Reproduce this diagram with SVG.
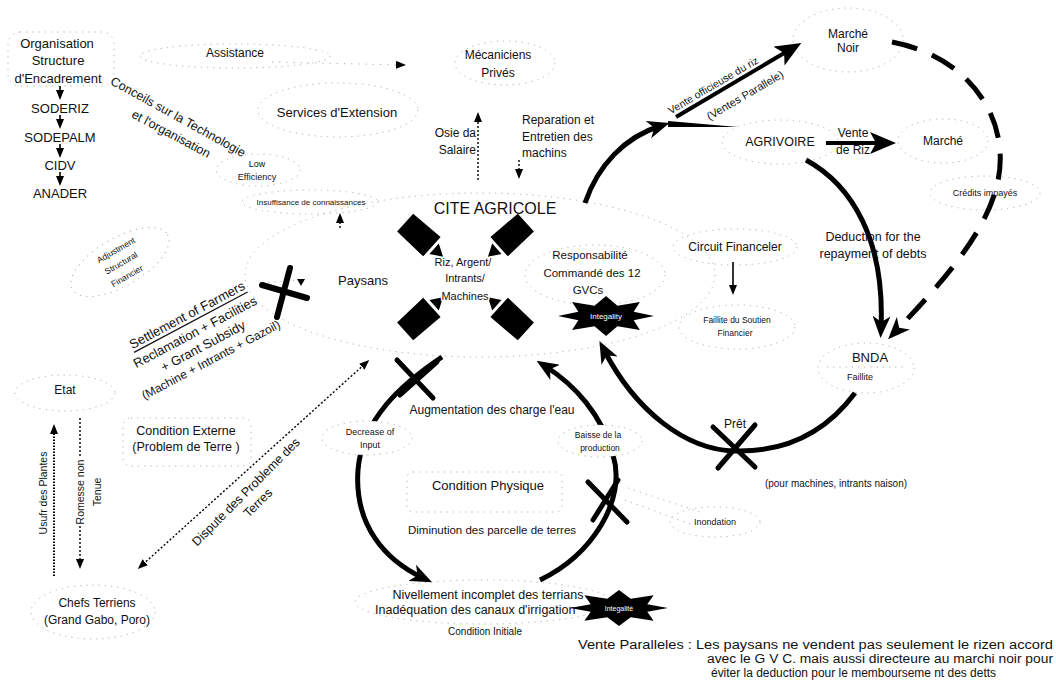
<svg xmlns="http://www.w3.org/2000/svg" width="1056" height="688" viewBox="0 0 1056 688">
<defs>
<style>
text{font-family:"Liberation Sans",Arial,Helvetica,sans-serif;fill:#111;text-anchor:middle;dominant-baseline:central}
.st{text-anchor:start}
.en{text-anchor:end}
.f7{font-size:7px}.f8{font-size:8px}.f85{font-size:8.5px}.f9{font-size:9px}.f10{font-size:10px}.f105{font-size:10.5px}.f11{font-size:11px}.f115{font-size:11.5px}.f12{font-size:12px}.f125{font-size:12.5px}.f13{font-size:13px}.f16{font-size:16px}
.dot{fill:none;stroke:#b0b0b0;stroke-width:1;stroke-dasharray:1.2 5}
.dotw{fill:#fff;stroke:#b0b0b0;stroke-width:1;stroke-dasharray:1.2 5}
.thick{fill:none;stroke:#000;stroke-width:5;stroke-linecap:butt}
.dash{fill:none;stroke:#000;stroke-width:5;stroke-dasharray:26 16}
.thin{fill:none;stroke:#000;stroke-width:1.4;stroke-dasharray:2 2}
.solid{fill:none;stroke:#000;stroke-width:1.6}
.xm{stroke:#000;stroke-width:6;stroke-linecap:round;fill:none}
.halo{paint-order:stroke;stroke:#fff;stroke-width:3px;stroke-linejoin:round}
.wt{fill:#fff}
</style>
<marker id="big" markerUnits="userSpaceOnUse" viewBox="0 0 22 18" markerWidth="22" markerHeight="18" refX="12" refY="9" orient="auto"><path d="M0,0 L22,9 L0,18 L6,9 Z" fill="#000"/></marker>
<marker id="bigL" markerUnits="userSpaceOnUse" viewBox="0 0 26 22" markerWidth="26" markerHeight="22" refX="14" refY="11" orient="auto"><path d="M0,0 L26,11 L0,22 L6,11 Z" fill="#000"/></marker>
<marker id="sm" markerUnits="userSpaceOnUse" viewBox="0 0 10 8" markerWidth="10" markerHeight="8" refX="7" refY="4" orient="auto-start-reverse"><path d="M0,0 L10,4 L0,8 Z" fill="#000"/></marker>
<g id="ba"><polygon points="-20,-12 16,-13 16,13 -20,12" fill="#000"/><polygon points="19,-7 31,0 19,7" fill="#000"/></g>
<polygon id="star" points="48,0 27.7,4.2 33.9,14.1 11.5,10.2 0,20 -11.5,10.2 -33.9,14.1 -27.7,4.2 -48,0 -27.7,-4.2 -33.9,-14.1 -11.5,-10.2 0,-20 11.5,-10.2 33.9,-14.1 27.7,-4.2" fill="#000"/>
</defs>
<rect width="1056" height="688" fill="#fff"/>

<g id="outlines">
<rect class="dot" x="8" y="32" width="106" height="54" rx="12"/>
<ellipse class="dot" cx="235" cy="56" rx="95" ry="12"/>
<ellipse class="dot" cx="505" cy="63" rx="50" ry="22"/>
<ellipse class="dot" cx="338" cy="110" rx="80" ry="27"/>
<ellipse class="dot" cx="258" cy="170" rx="42" ry="16"/>
<ellipse class="dot" cx="310" cy="202" rx="68" ry="12"/>
<ellipse class="dot" cx="120" cy="262" rx="55" ry="24" transform="rotate(-30 120 262)"/>
<ellipse class="dot" cx="480" cy="275" rx="235" ry="82"/>
<ellipse class="dot" cx="595" cy="275" rx="70" ry="30"/>
<ellipse class="dot" cx="735" cy="247" rx="62" ry="18"/>
<ellipse class="dot" cx="737" cy="327" rx="58" ry="22"/>
<ellipse class="dot" cx="866" cy="368" rx="48" ry="25"/>
<line class="dot" x1="827" y1="367" x2="903" y2="367"/>
<ellipse class="dot" cx="985" cy="193" rx="55" ry="17"/>
<ellipse class="dot" cx="780" cy="142" rx="58" ry="22"/>
<ellipse class="dot" cx="943" cy="141" rx="45" ry="22"/>
<ellipse class="dot" cx="848" cy="40" rx="55" ry="32"/>
<ellipse class="dot" cx="65" cy="393" rx="50" ry="18"/>
<rect class="dot" x="123" y="418" width="128" height="48" rx="8"/>
<ellipse class="dot" cx="93" cy="612" rx="62" ry="27"/>
<rect class="dot" x="407" y="472" width="155" height="40" rx="6"/>
<ellipse class="dot" cx="715" cy="522" rx="45" ry="15"/>
<ellipse class="dot" cx="483" cy="602" rx="128" ry="22"/>
</g>

<g id="connectors">
<path class="solid" d="M60,86 L60,97" marker-end="url(#sm)"/>
<path class="solid" d="M60,115 L60,126" marker-end="url(#sm)"/>
<path class="solid" d="M60,144 L60,155" marker-end="url(#sm)"/>
<path class="solid" d="M60,172 L60,183" marker-end="url(#sm)"/>
<path d="M272,62 L403,65" fill="none" stroke="#b0b0b0" stroke-width="1" stroke-dasharray="1.2 6" marker-end="url(#sm)"/>
<path class="thin" d="M478,180 L478,115" marker-end="url(#sm)"/>
<path class="thin" d="M519,160 L519,176" marker-end="url(#sm)"/>
<path class="thin" d="M340,228 L340,216" marker-end="url(#sm)"/>
<path d="M262,283 L298,280" fill="none" stroke="#b0b0b0" stroke-width="1" stroke-dasharray="1.2 5"/>
<polygon points="297,279 305,279 301,286" fill="#000"/>
<path class="solid" d="M733,262 L733,292" marker-end="url(#sm)"/>
<path d="M54,576 L54,427" fill="none" stroke="#000" stroke-width="2" stroke-dasharray="1.5 1.5" marker-end="url(#sm)"/>
<path class="thin" d="M80,418 L80,458 M80,526 L80,566" marker-end="url(#sm)"/>
<path class="thin" d="M140,567 L367,362" marker-start="url(#sm)" marker-end="url(#sm)"/>
<path class="thick" d="M585,203 C598,165 625,137 660,126" marker-end="url(#big)"/>
<polygon points="668,121 738,127 668,127" fill="#000"/>
<path d="M676,117 L791,49" fill="none" stroke="#000" stroke-width="4" marker-end="url(#bigL)"/>
<path d="M826,143 L884,143" fill="none" stroke="#000" stroke-width="4" marker-end="url(#bigL)"/>
<path class="thick" d="M806,160 C852,185 885,240 881,328" marker-end="url(#big)"/>
<path class="dash" d="M892,42 C975,58 1012,125 997,185 C985,235 940,285 895,332" marker-end="url(#big)"/>
<path class="thick" d="M855,393 C820,440 775,452 735,451 C685,450 635,410 604,350" marker-end="url(#big)"/>
<path class="thick" d="M442,357 C400,385 362,420 358,470 C354,525 385,560 423,578" marker-end="url(#big)"/>
<path class="thick" d="M540,580 C592,555 627,500 613,455 C602,415 575,385 545,366" marker-end="url(#big)"/>
<path d="M628,488 L700,512 M625,500 L690,524" fill="none" stroke="#b0b0b0" stroke-width="1" stroke-dasharray="1.2 5"/>
<path class="xm" d="M262,285 L307,298 M290,268 L277,317"/>
<path class="xm" d="M713,427 L755,467 M755,425 L718,468" style="stroke-width:5"/>
<path class="xm" d="M397,360 L433,398 M437,362 L400,395" style="stroke-width:5"/>
<path class="xm" d="M588,482 L627,522 M618,480 L593,520" style="stroke-width:5"/>
</g>

<g id="node-organisation">
<text class="f13" x="57" y="43">Organisation</text>
<text class="f13" x="58" y="60">Structure</text>
<text class="f13" x="58" y="78">d'Encadrement</text>
</g>
<g id="node-soderiz"><text class="f13" x="60" y="108">SODERIZ</text></g>
<g id="node-sodepalm"><text class="f13" x="60" y="137">SODEPALM</text></g>
<g id="node-cidv"><text class="f13" x="60" y="165">CIDV</text></g>
<g id="node-anader"><text class="f13" x="60" y="193">ANADER</text></g>
<g id="label-conseils">
<text class="f125" transform="translate(178,117) rotate(29)">Conceils sur la Technologie</text>
<text class="f125" transform="translate(171,134) rotate(28)">et l'organisation</text>
</g>
<g id="node-assistance"><text class="f12" x="235" y="53">Assistance</text></g>
<g id="node-mecaniciens">
<text class="f12" x="498" y="55">Mécaniciens</text>
<text class="f12" x="498" y="73">Privés</text>
</g>
<g id="node-services"><text class="f13" x="337" y="112">Services d'Extension</text></g>
<g id="label-osie">
<text class="f12 en" x="476" y="133">Osie da</text>
<text class="f12 en" x="476" y="150">Salaire</text>
</g>
<g id="label-reparation">
<text class="f12 st" x="522" y="120">Reparation et</text>
<text class="f12 st" x="522" y="137">Entretien des</text>
<text class="f12 st" x="522" y="153">machins</text>
</g>
<g id="node-low-efficiency">
<text class="f9" x="257" y="164">Low</text>
<text class="f9" x="257" y="177">Efficiency</text>
</g>
<g id="node-insuffisance"><text class="f8" x="311" y="202">Insuffisance de connaissances</text></g>

<g id="node-cite-agricole">
<text class="f16" x="495" y="208">CITE AGRICOLE</text>
<use href="#ba" transform="translate(420,236) rotate(42)"/>
<use href="#ba" transform="translate(511,236) rotate(138)"/>
<use href="#ba" transform="translate(420,318) rotate(-42)"/>
<use href="#ba" transform="translate(511,318) rotate(-138)"/>
<text class="f13" x="363" y="280">Paysans</text>
<text class="f11 halo" x="463" y="262">Riz, Argent/</text>
<text class="f11 halo" x="465" y="278">Intrants/</text>
<text class="f11 halo" x="465" y="296">Machines</text>
</g>
<g id="node-responsabilite">
<text class="f115" x="590" y="255">Responsabilité</text>
<text class="f115" x="592" y="273">Commandé des 12</text>
<text class="f115" x="588" y="290">GVCs</text>
</g>
<g id="mark-integality-1">
<use href="#star" transform="translate(606,316)"/>
<text class="f8 wt" x="606" y="316">Integality</text>
</g>
<g id="node-circuit-financier"><text class="f12" x="735" y="247">Circuit Financeler</text></g>
<g id="node-faillite-soutien">
<text class="f85" x="737" y="320">Faillite du Soutien</text>
<text class="f85" x="735" y="333">Financier</text>
</g>
<g id="node-agrivoire"><text class="f125" x="780" y="142">AGRIVOIRE</text></g>
<g id="label-vente-riz">
<text class="f12" x="853" y="133">Vente</text>
<text class="f12" x="853" y="150">de Riz</text>
</g>
<g id="node-marche"><text class="f12" x="943" y="141">Marché</text></g>
<g id="node-marche-noir">
<text class="f12" x="848" y="34">Marché</text>
<text class="f12" x="848" y="48">Noir</text>
</g>
<g id="label-vente-officieuse">
<text class="f105 halo" transform="translate(713,85) rotate(-30.4)">Vente officieuse du riz</text>
<text class="f11" transform="translate(745,95) rotate(-30.4)">(Ventes Parallele)</text>
</g>
<g id="node-credits"><text class="f9" x="985" y="193">Crédits impayés</text></g>
<g id="label-deduction">
<text class="f125" x="873" y="237">Deduction for the</text>
<text class="f125" x="873" y="254">repayment of debts</text>
</g>
<g id="node-bnda">
<text class="f13" x="870" y="357">BNDA</text>
<text class="f9" x="860" y="377">Faillite</text>
</g>
<g id="label-pret">
<text class="f12" x="735" y="424">Prêt</text>
<text class="f105" x="836" y="483" textLength="142" lengthAdjust="spacingAndGlyphs">(pour machines, intrants naison)</text>
</g>
<g id="node-inondation"><text class="f9" x="715" y="522">Inondation</text></g>
<g id="node-decrease">
<ellipse class="dotw" cx="367" cy="438" rx="45" ry="17"/>
<text class="f9" x="370" y="432">Decrease of</text>
<text class="f9" x="370" y="445">Input</text>
</g>
<g id="label-augmentation"><text class="f12" x="492" y="410">Augmentation des charge l'eau</text></g>
<g id="node-baisse">
<ellipse class="dotw" cx="600" cy="441" rx="42" ry="16"/>
<text class="f85" x="598" y="435">Baisse de la</text>
<text class="f85" x="600" y="448">production</text>
</g>
<g id="node-condition-physique"><text class="f13" x="488" y="485">Condition Physique</text></g>
<g id="label-diminution"><text class="f115" x="492" y="530">Diminution des parcelle de terres</text></g>
<g id="node-condition-initiale">
<text class="f125" x="488" y="595">Nivellement incomplet des terrians</text>
<text class="f125 st" x="375" y="610">Inadéquation des canaux d'irrigation</text>
<text class="f10" x="485" y="631">Condition Initiale</text>
</g>
<g id="mark-integality-2">
<use href="#star" transform="translate(619,608) scale(1.02,0.9)"/>
<text class="f7 wt" x="619" y="608">Integalité</text>
</g>
<g id="node-adjustment">
<text class="f85" transform="translate(116,250) rotate(-30)">Adjustment</text>
<text class="f85" transform="translate(121,263) rotate(-30)">Structural</text>
<text class="f85" transform="translate(127,276) rotate(-30)">Financier</text>
</g>
<g id="label-settlement">
<text class="f13" text-decoration="underline" transform="translate(187,315) rotate(-28)">Settlement of Farmers</text>
<text class="f13" transform="translate(195,332) rotate(-28)">Reclamation + Facilities</text>
<text class="f13" transform="translate(203,346) rotate(-28)">+ Grant Subsidy</text>
<text class="f12" transform="translate(211,360) rotate(-28)">(Machine + Intrants + Gazoil)</text>
</g>
<g id="node-etat"><text class="f12" x="65" y="390">Etat</text></g>
<g id="node-condition-externe">
<text class="f125" x="186" y="431">Condition Externe</text>
<text class="f125" x="186" y="447">(Problem de Terre )</text>
</g>
<g id="label-usufr"><text class="f105" transform="translate(43,493) rotate(-90)">Usufr des Plantes</text></g>
<g id="label-promesse">
<text class="f105" transform="translate(80,492) rotate(-90)">Romesse non</text>
<text class="f105" transform="translate(97,492) rotate(-90)">Tenue</text>
</g>
<g id="node-chefs-terriens">
<text class="f12" x="97" y="603">Chefs Terriens</text>
<text class="f12" x="97" y="620">(Grand Gabo, Poro)</text>
</g>
<g id="label-dispute">
<text class="f125" transform="translate(246,492) rotate(-45)">Dispute des Probleme des</text>
<text class="f125" transform="translate(258,503) rotate(-45)">Terres</text>
</g>
<g id="note-vente-paralleles">
<text class="st" style="font-size:12.5px" x="578" y="645" textLength="475" lengthAdjust="spacingAndGlyphs">Vente Paralleles : Les paysans ne vendent pas seulement le rizen accord</text>
<text class="st" style="font-size:12.5px" x="707" y="659" textLength="346" lengthAdjust="spacingAndGlyphs">avec le G V C. mais aussi directeure au marchi noir pour</text>
<text class="st" style="font-size:12.5px" x="711" y="673" textLength="285" lengthAdjust="spacingAndGlyphs">éviter la deduction pour le membourseme nt des detts</text>
</g>
</svg>
